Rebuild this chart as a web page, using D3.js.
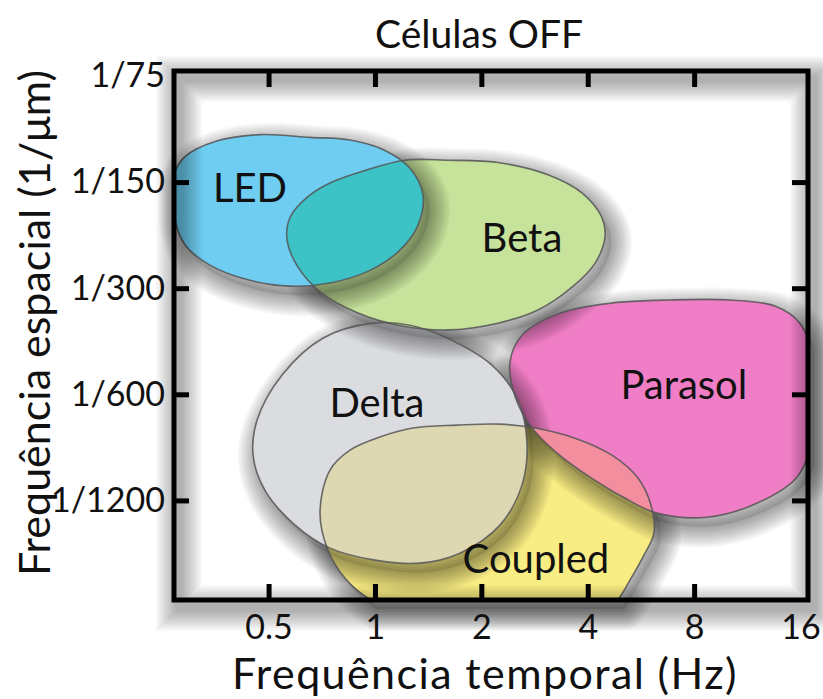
<!DOCTYPE html>
<html><head><meta charset="utf-8">
<script src="https://cdn.jsdelivr.net/npm/d3@7"></script>
<style>
body{margin:0;background:#fff}
svg text{font-family:Lato,"Open Sans",sans-serif;fill:#111}
</style>
</head><body>
<svg id="chart" width="823" height="699"></svg>
<script>
// ---- data (temporal frequency in Hz, spatial frequency as 1/µm -> stored as the µm denominator) ----
const temporalTicksHz = [0.5, 1, 2, 4, 8, 16];
const spatialTicksUm = [75, 150, 300, 600, 1200];

const ledOutline = [[0.27,143],[0.29,127],[0.353,115],[0.473,110],[0.655,112],[0.85,114],[1.067,122],[1.256,137],[1.367,163],[1.323,199],[1.177,234],[0.968,267],[0.746,290],[0.575,296],[0.443,285],[0.341,258],[0.29,226],[0.27,186]];
const betaOutline = [[0.575,189],[0.646,165],[0.756,150],[0.937,139],[1.216,130],[1.609,130],[2.228,132],[3.086,143],[3.851,161],[4.386,189],[4.475,215],[4.193,255],[3.61,298],[2.892,346],[2.228,377],[1.609,394],[1.162,382],[0.895,353],[0.708,310],[0.605,261],[0.564,219]];
const deltaOutline = [[0.987,377],[0.712,416],[0.546,529],[0.464,710],[0.452,893],[0.488,1122],[0.594,1410],[0.746,1639],[1.0,1773],[1.341,1808],[1.74,1694],[2.258,1410],[2.606,1086],[2.693,826],[2.538,623],[2.143,496],[1.578,413],[1.256,382]];
const parasolOutline = [[2.41,486],[2.606,408],[3.338,353],[4.624,331],[6.835,324],[10.1,324],[13.54,337],[15.93,377],[17.23,465],[17.23,810],[15.63,1031],[12.04,1222],[8.7,1339],[6.28,1304],[5.03,1174],[4.06,1031],[3.274,881],[2.745,734],[2.49,607]];
const coupledOutline = [[0.699,1295],[0.746,984],[0.85,864],[1.033,793],[1.281,748],[1.706,734],[2.258,729],[2.836,748],[3.681,799],[4.683,893],[5.548,1037],[6.038,1237],[6.156,1486],[5.731,1737],[5.267,2019],[4.934,2256],[4.624,2425],[2.258,2458],[1.103,2425],[0.937,2242],[0.822,1993],[0.736,1660]];

const cellNames = ["LED", "Beta", "Delta", "Parasol", "Coupled"];
const labelHz = [0.443, 2.606, 1.013, 7.48, 2.854];
const labelUm = [156, 216, 632, 562, 1757];

// ---- styles ----
const fills = {LED:"#6FCDF1", Beta:"#C6E29B", Delta:"#DADCE0", Parasol:"#F07EC6", Coupled:"#F8EC84"};
const overlapFills = [["LED","Beta","#3DC2C6"],["Delta","Coupled","#DDD8B1"],["Parasol","Coupled","#F28E9E"],["Delta","Parasol","#E2A9CF"]];

const outlines = {LED:ledOutline, Beta:betaOutline, Delta:deltaOutline, Parasol:parasolOutline, Coupled:coupledOutline};
const drawOrder = ["Coupled","Parasol","Delta","Beta","LED"];

const plot = {left:174, right:808, top:71, bottom:600};
const x = d3.scaleLog().base(2).domain([0.27, 16.8]).range([plot.left, plot.right]);
const y = d3.scaleLog().base(2).domain([72.6, 2300]).range([plot.top, plot.bottom]);

const svg = d3.select("#chart");
const defs = svg.append("defs");

defs.append("clipPath").attr("id","plotClip").append("rect")
  .attr("x",plot.left).attr("y",plot.top).attr("width",plot.right-plot.left).attr("height",plot.bottom-plot.top);

const line = d3.line().x(d=>x(d[0])).y(d=>y(d[1])).curve(d3.curveCatmullRomClosed.alpha(0.5));

Object.keys(outlines).forEach(k=>{
  defs.append("clipPath").attr("id","clip-"+k).append("path").attr("d", line(outlines[k]));
});

// clip a sampled version of a path to the plot rectangle (Sutherland–Hodgman)
function clippedPolygon(d){
  const tmp = svg.append("path").attr("d", d).node();
  const L = tmp.getTotalLength(); let pts = [];
  for (let i=0;i<240;i++){ const p = tmp.getPointAtLength(L*i/240); pts.push([p.x,p.y]); }
  tmp.remove();
  const edges = [
    [p=>p[0]>=plot.left, (a,b)=>{const t=(plot.left-a[0])/(b[0]-a[0]); return [plot.left, a[1]+t*(b[1]-a[1])];}],
    [p=>p[0]<=plot.right,(a,b)=>{const t=(plot.right-a[0])/(b[0]-a[0]); return [plot.right, a[1]+t*(b[1]-a[1])];}],
    [p=>p[1]>=plot.top,  (a,b)=>{const t=(plot.top-a[1])/(b[1]-a[1]); return [a[0]+t*(b[0]-a[0]), plot.top];}],
    [p=>p[1]<=plot.bottom,(a,b)=>{const t=(plot.bottom-a[1])/(b[1]-a[1]); return [a[0]+t*(b[0]-a[0]), plot.bottom];}]
  ];
  edges.forEach(([inside, inter])=>{
    const out=[];
    for (let i=0;i<pts.length;i++){
      const cur=pts[i], prev=pts[(i+pts.length-1)%pts.length];
      if (inside(cur)){ if(!inside(prev)) out.push(inter(prev,cur)); out.push(cur); }
      else if (inside(prev)) out.push(inter(prev,cur));
    }
    pts=out;
  });
  return "M"+pts.map(p=>p[0].toFixed(1)+","+p[1].toFixed(1)).join("L")+"Z";
}

// soft shadow built from stacked translucent strokes
function softShadow(parent, d, dx, dy, fillOp, steps, stepW, strokeOp){
  const g = parent.append("g").attr("transform",`translate(${dx},${dy})`);
  g.append("path").attr("d",d).attr("fill","#000").attr("fill-opacity",fillOp);
  for (let i=1;i<=steps;i++){
    g.append("path").attr("d",d).attr("fill","none").attr("stroke","#000")
      .attr("stroke-opacity",strokeOp).attr("stroke-width",i*stepW).attr("stroke-linejoin","round");
  }
}

// blobs with shadows
const blobLayer = svg.append("g");
drawOrder.forEach(k=>{
  const d = line(outlines[k]);
  softShadow(blobLayer, clippedPolygon(d), 6, 9, 0.1, 14, 3, 0.026);
  blobLayer.append("path").attr("d", d).attr("fill", fills[k]).attr("clip-path","url(#plotClip)");
});
// overlaps
overlapFills.forEach(([a,b,c])=>{
  svg.append("g").attr("clip-path","url(#clip-"+b+")")
    .append("path").attr("d", line(outlines[a])).attr("fill", c).attr("clip-path","url(#plotClip)");
});
// outlines
const outlineLayer = svg.append("g").attr("clip-path","url(#plotClip)");
drawOrder.forEach(k=>{
  outlineLayer.append("path").attr("d", line(outlines[k])).attr("fill","none")
    .attr("stroke","#555").attr("stroke-opacity",0.85).attr("stroke-width",1.6);
});

// frame shadow
const fsh = svg.append("g").attr("transform","translate(5,8)");
for (let i=1;i<=12;i++){
  fsh.append("rect").attr("x",plot.left).attr("y",plot.top).attr("width",plot.right-plot.left).attr("height",plot.bottom-plot.top)
    .attr("fill","none").attr("stroke","#000").attr("stroke-opacity",0.028).attr("stroke-width",4+i*3.5);
}

// frame + ticks
const frame = svg.append("g");
frame.append("rect").attr("x",plot.left).attr("y",plot.top).attr("width",plot.right-plot.left).attr("height",plot.bottom-plot.top)
  .attr("fill","none").attr("stroke","#000").attr("stroke-width",5);
const innerX = temporalTicksHz.filter(d=>d<16);
const innerY = spatialTicksUm.filter(d=>d>75);
function tickStyle(g){ g.select(".domain").remove(); g.selectAll("line").attr("stroke","#000").attr("stroke-width",5); g.selectAll("text").remove(); }
frame.append("g").attr("transform",`translate(0,${plot.bottom})`).call(d3.axisBottom(x).tickValues(innerX).tickSize(-16).tickSizeOuter(0)).call(tickStyle);
frame.append("g").attr("transform",`translate(0,${plot.top})`).call(d3.axisTop(x).tickValues(innerX).tickSize(-16).tickSizeOuter(0)).call(tickStyle);
frame.append("g").attr("transform",`translate(${plot.left},0)`).call(d3.axisLeft(y).tickValues(innerY).tickSize(-15).tickSizeOuter(0)).call(tickStyle);
frame.append("g").attr("transform",`translate(${plot.right},0)`).call(d3.axisRight(y).tickValues(innerY).tickSize(-16).tickSizeOuter(0)).call(tickStyle);

// tick labels
function labelStyle(g){ g.select(".domain").remove(); g.selectAll("line").remove(); g.selectAll("text").style("font-size","34px").attr("fill","#111"); }
svg.append("g").attr("transform",`translate(0,${plot.bottom})`)
  .call(d3.axisBottom(x).tickValues(temporalTicksHz).tickSize(0).tickPadding(15).tickFormat(d=>String(d)))
  .call(labelStyle);
svg.append("g").attr("transform",`translate(${plot.left},0)`)
  .call(d3.axisLeft(y).tickValues(spatialTicksUm).tickSize(0).tickPadding(9).tickFormat(d=>"1/"+d))
  .call(labelStyle);

// cell labels
svg.append("g").selectAll("text").data(cellNames).join("text")
  .attr("x",(d,i)=>x(labelHz[i])).attr("y",(d,i)=>y(labelUm[i])).attr("dy","0.36em")
  .attr("text-anchor","middle").style("font-size","40px").text(d=>d);

// titles
svg.append("text").attr("x",479).attr("y",48).attr("text-anchor","middle").style("font-size","39px").text("Células OFF");
svg.append("text").attr("x",485).attr("y",689).attr("text-anchor","middle").style("font-size","43px").style("letter-spacing","1.4px").text("Frequência temporal (Hz)");
svg.append("text").attr("transform","translate(50,323) rotate(-90)").attr("text-anchor","middle").style("font-size","43px").text("Frequência espacial (1/μm)");
</script>
</body></html>
